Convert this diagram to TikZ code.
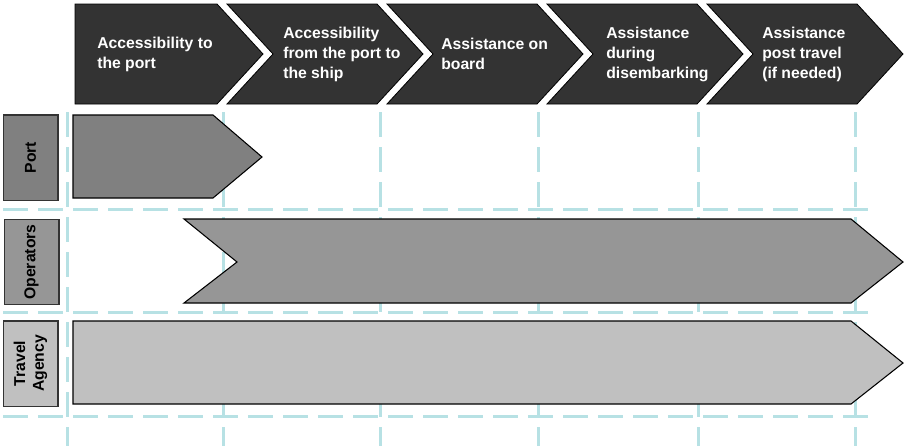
\documentclass[tikz,border=0pt]{standalone}
\usepackage{fontspec}
\setmainfont{Liberation Sans}
\usepackage{xcolor}
\usepackage{tikz}
\definecolor{S0}{HTML}{333333}
\definecolor{R0}{HTML}{808080}
\definecolor{R1}{HTML}{969696}
\definecolor{R2}{HTML}{C0C0C0}
\definecolor{G0}{HTML}{B7E1E4}
\tikzset{
  stage/.style={fill=S0, draw=black, line width=0.6pt},
  stagetxt/.style={anchor=west, align=left, text=white, font=\fontsize{11.8}{15}\selectfont\bfseries, inner sep=0pt},
  lane/.style={draw=black, line width=0.8pt},
  lanebox/.style={draw=S0, line width=1pt, rotate=90, minimum width=64pt, minimum height=41pt, inner sep=0pt, align=center, font=\fontsize{11.8}{14}\selectfont\bfseries},
  gridline/.style={draw=G0, line width=2.25pt, dash pattern=on 18.75pt off 7.5pt},
}

\begin{document}
\begin{tikzpicture}[x=0.75pt, y=-0.75pt]%
\useasboundingbox (0,0) rectangle (905,446);%
% grid
\draw[gridline] (67,112) -- (67,446);%
\draw[gridline] (223,112) -- (223,446);%
\draw[gridline] (380,112) -- (380,446);%
\draw[gridline] (538,112) -- (538,446);%
\draw[gridline] (698,112) -- (698,446);%
\draw[gridline] (855,112) -- (855,446);%
\draw[gridline] (3,209) -- (878,209);%
\draw[gridline] (3,312) -- (878,312);%
\draw[gridline] (3,416) -- (878,416);%
% stages
\draw[stage] (75,4) -- (217,4) -- (263,54) -- (217,104) -- (75,104) -- cycle;%
\draw[stage] (227,4) -- (377,4) -- (423,54) -- (377,104) -- (227,104) -- (273,54) -- cycle;%
\draw[stage] (387,4) -- (537,4) -- (583,54) -- (537,104) -- (387,104) -- (433,54) -- cycle;%
\draw[stage] (547,4) -- (697,4) -- (743,54) -- (697,104) -- (547,104) -- (593,54) -- cycle;%
\draw[stage] (707,4) -- (857,4) -- (903,54) -- (857,104) -- (707,104) -- (753,54) -- cycle;%
\node[stagetxt] (s1) at (97,54) {Accessibility to\\the port};%
\node[stagetxt] (s2) at (283,54) {Accessibility\\from the port to\\the ship};%
\node[stagetxt] (s3) at (441,54) {Assistance on\\board};%
\node[stagetxt] (s4) at (606,54) {Assistance\\during\\disembarking};%
\node[stagetxt] (s5) at (762,54) {Assistance\\post travel\\(if needed)};%
% lanes
\node[lanebox, fill=R0] (port) at (30.5,157.5) {Port};%
\node[lanebox, fill=R1] (oper) at (31.5,262) {Operators};%
\node[lanebox, fill=R2] (agency) at (30.5,363.5) {Travel\\Agency};%
\draw[lane, fill=R0] (73,115) -- (213,115) -- (262,157) -- (213,198) -- (73,198) -- cycle;%
\draw[lane, fill=R1] (184,219) -- (851,219) -- (903,262) -- (851,303) -- (184,303) -- (237,262) -- cycle;%
\draw[lane, fill=R2] (73,321) -- (851,321) -- (903,363) -- (851,404) -- (73,404) -- cycle;%
\end{tikzpicture}
\end{document}
